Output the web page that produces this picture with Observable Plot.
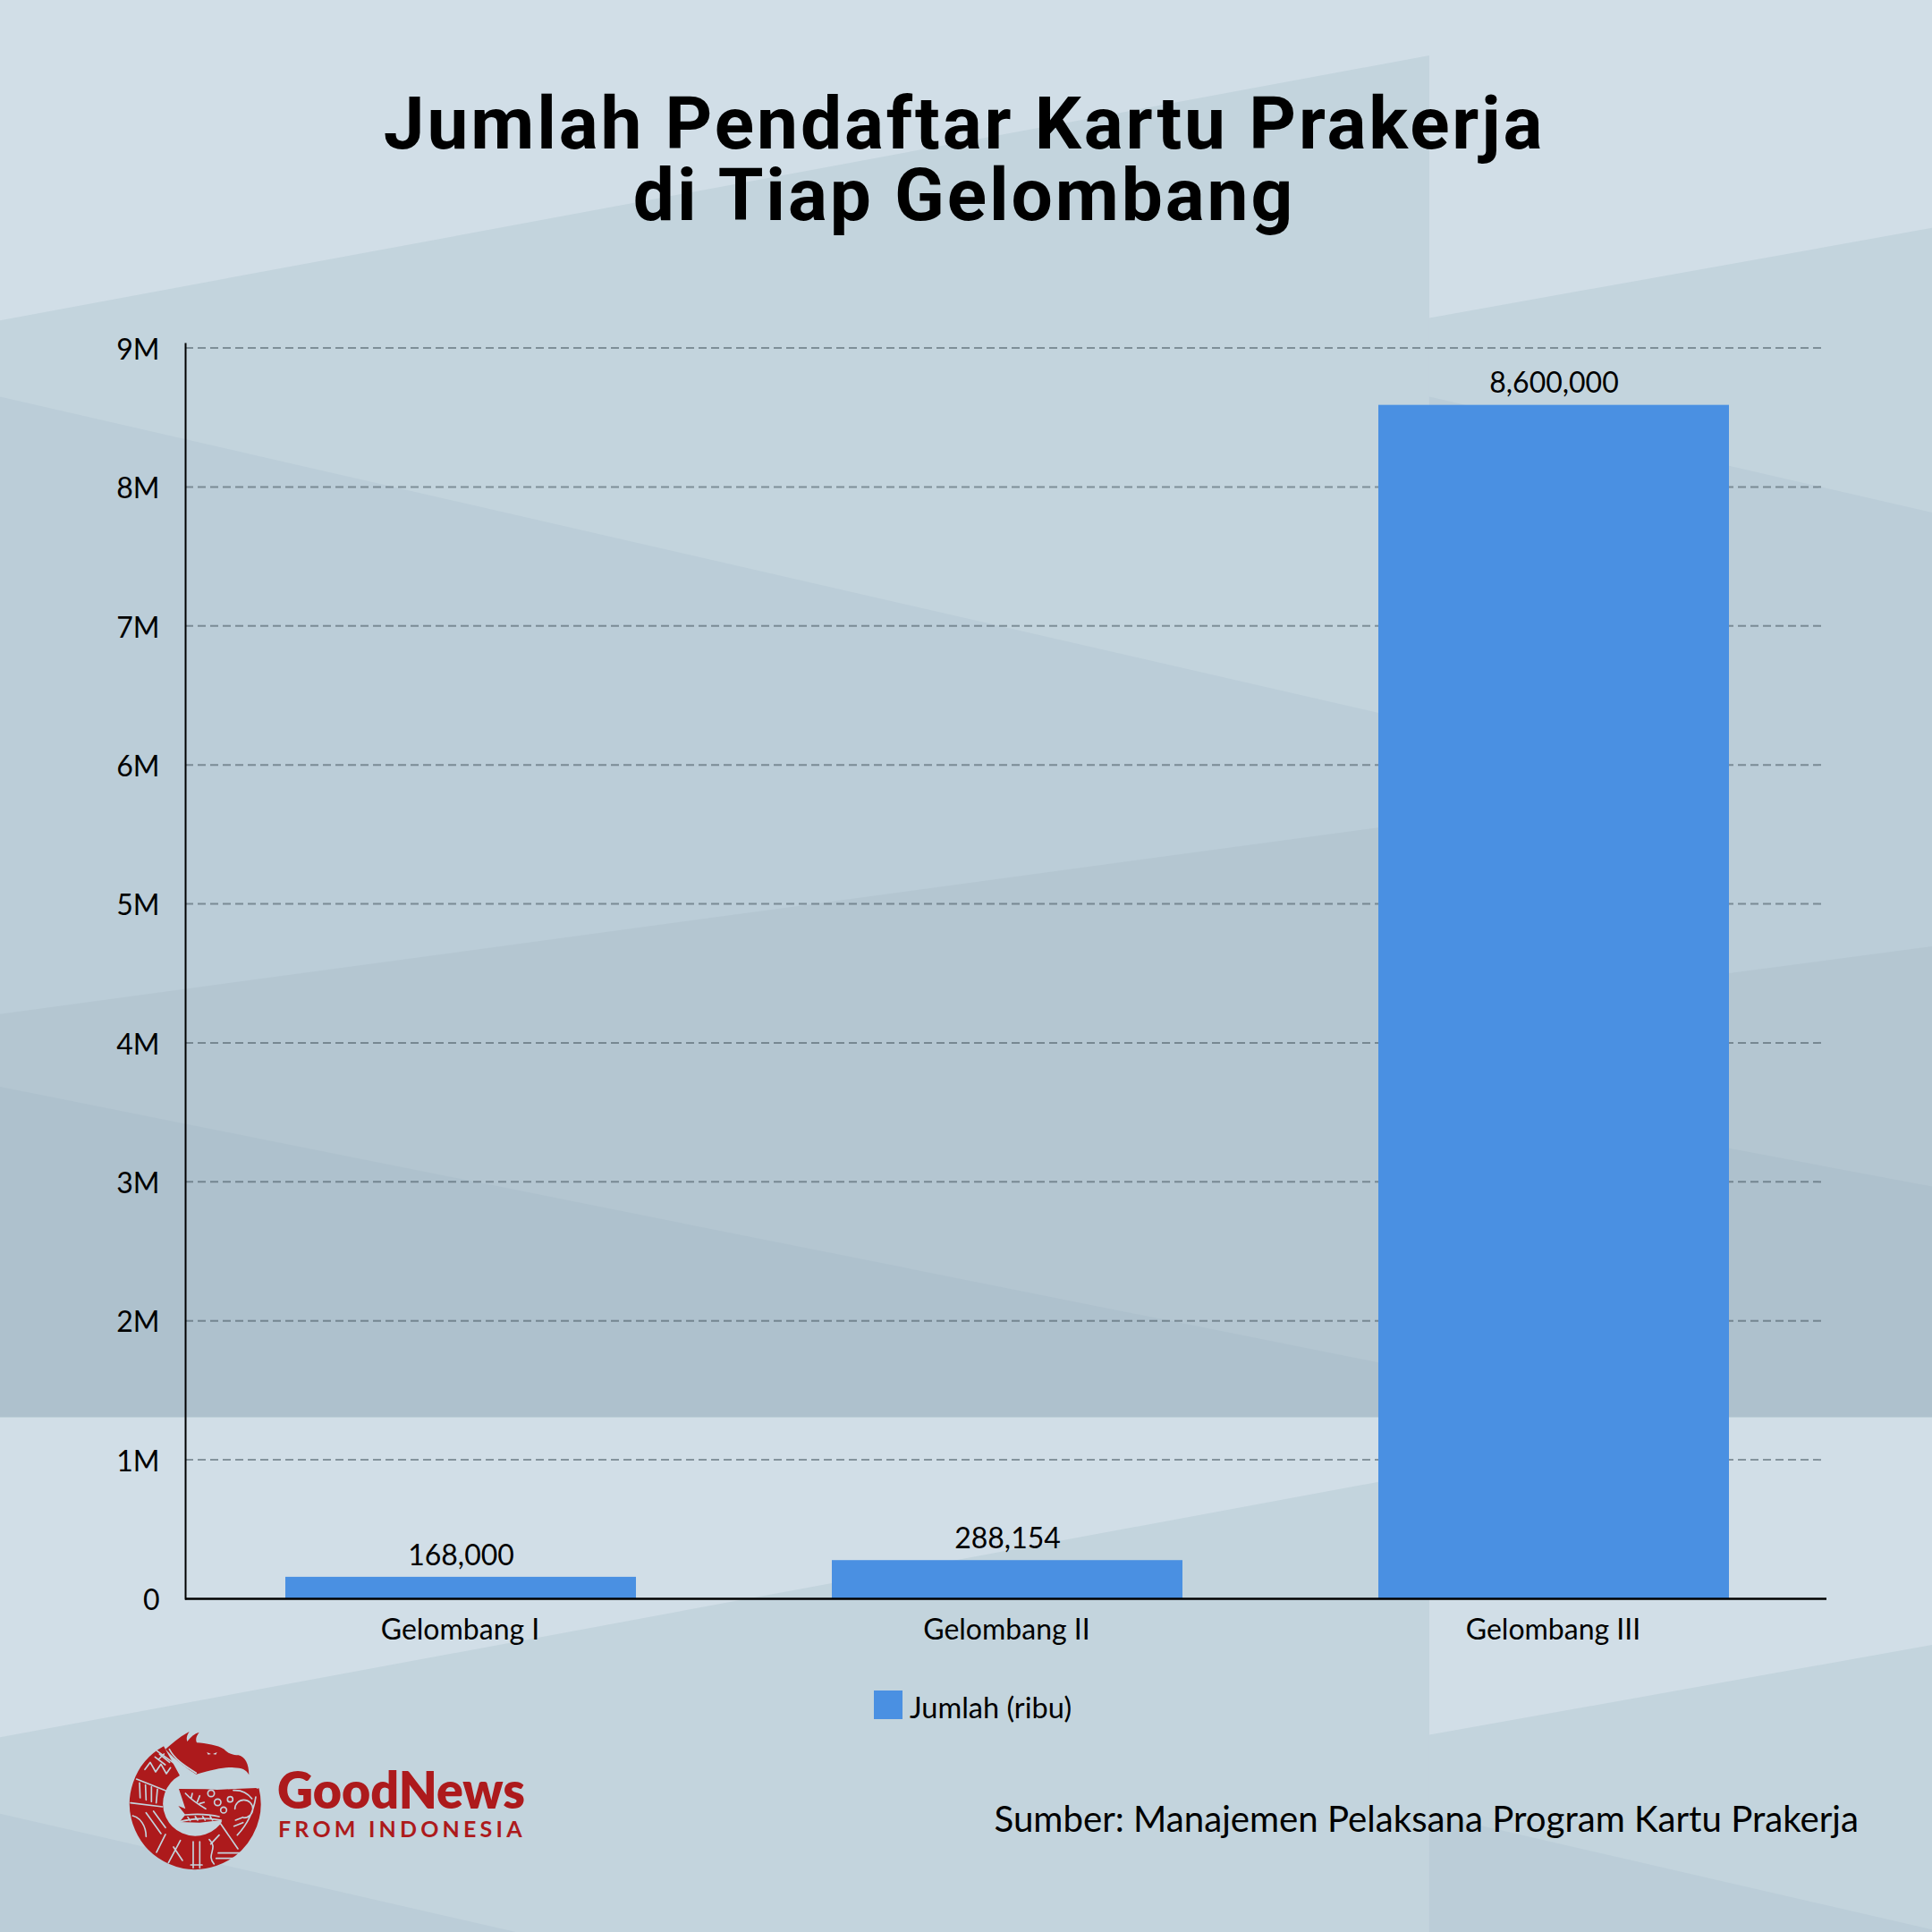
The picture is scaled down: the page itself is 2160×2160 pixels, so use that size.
<!DOCTYPE html>
<html>
<head>
<meta charset="utf-8">
<script src="https://cdn.jsdelivr.net/npm/d3@7"></script>
<script src="https://cdn.jsdelivr.net/npm/@observablehq/plot@0.6"></script>
<style>
html,body{margin:0;padding:0;background:#d1dee7}
#page{position:relative;width:2160px;height:2160px;overflow:hidden;font-family:Lato,sans-serif;color:#000}
#bg,#logo{position:absolute;left:0;top:0}
#chart{position:absolute;left:0;top:0}
#title{position:absolute;left:0;top:98px;width:2156px;text-align:center;font-family:Roboto,sans-serif;font-weight:700;font-size:82px;line-height:80px;letter-spacing:2.9px;white-space:nowrap}
#swatch{position:absolute;left:977px;top:1890px;width:32px;height:32px;background:#4a90e2}
#legend{position:absolute;left:1017px;top:1890px;font-size:32.5px;line-height:38px;white-space:nowrap}
#source{position:absolute;right:82px;top:2008px;font-size:40.2px;line-height:50px;white-space:nowrap}
</style>
</head>
<body>
<div id="page">
<svg id="bg" width="2160" height="2160" viewBox="0 0 1568 1568">
  <defs>
    <g id="tileL">
      <polygon points="0,260 1160,45 1160,1150 0,1150" fill="#c3d4dd"/>
      <polygon points="0,322 1160,588 1160,1150 0,1150" fill="#bbcdd8"/>
      <polygon points="0,823 1160,666 1160,1150 0,1150" fill="#b4c6d1"/>
      <polygon points="0,882 1160,1114 1160,1150 0,1150" fill="#aec1cd"/>
    </g>
    <g id="tileR">
      <polygon points="1160,258 1568,185 1568,1150 1160,1150" fill="#c3d4dd"/>
      <polygon points="1160,322 1568,416 1568,1150 1160,1150" fill="#bbcdd8"/>
      <polygon points="1160,822 1568,768 1568,1150 1160,1150" fill="#b4c6d1"/>
      <polygon points="1160,886 1568,963 1568,1150 1160,1150" fill="#aec1cd"/>
    </g>
  </defs>
  <rect width="1568" height="1568" fill="#d1dee7"/>
  <use href="#tileL"/><use href="#tileR"/>
  <use href="#tileL" y="1150"/><use href="#tileR" y="1150"/>
</svg>

<div id="chart"></div>

<div id="title">Jumlah Pendaftar Kartu Prakerja<br>di Tiap Gelombang</div>

<div id="swatch"></div>
<div id="legend">Jumlah (ribu)</div>
<div id="source">Sumber: Manajemen Pelaksana Program Kartu Prakerja</div>

<svg id="logo" width="2160" height="2160" viewBox="0 0 2160 2160">
  <g transform="translate(130,1925) scale(0.3333)">
    <g fill="#ad1a1c">
      <path d="M186,131 A164,164 0 1 0 424,236" fill="none" stroke="#ad1a1c" stroke-width="112"/>
      <path d="M165,92 C185,75 205,55 245,33 C235,48 235,58 238,66 C250,50 262,40 278,35 C268,48 265,60 270,70 C300,72 340,78 362,92 C372,102 380,110 410,112 C432,118 445,140 445,178 C436,160 420,155 395,154 C365,150 330,160 268,176 C240,158 200,130 165,92 Z"/>
      <path d="M210,225 L300,226 L338,228 L400,225 L470,222 L482,250 L440,330 L385,372 L350,330 L280,338 L212,336 L232,312 L208,282 L232,292 Z"/>
    </g>
    <g fill="none" stroke="#c3d4dd" stroke-width="5" stroke-linecap="round" stroke-linejoin="round">
      <path d="M178,92 C195,125 225,145 268,172"/>
      <path d="M137,98 L240,172 M68,192 L168,232"/>
      <path d="M96,160 l18,-24 l18,32 l18,-26 l18,32 l14,-20 M130,118 l34,26 M145,108 l34,28 M160,108 l-18,18"/>
      <path d="M78,205 l2,50 M98,212 l2,50 M118,218 l0,50 M138,226 l-4,46 M48,272 L155,285"/>
      <path d="M55,315 C80,320 100,350 100,385 M100,305 l50,70 M125,300 l40,55 M165,378 l-30,60"/>
      <path d="M215,398 l-40,75 M192,420 l30,45 M258,402 v88 M280,402 v88 M250,480 h38"/>
      <path d="M312,395 c32,30 -12,50 16,82 M350,342 l58,84 M342,440 h72 M335,458 h58 M345,380 l-28,30"/>
      <path d="M468,252 c-8,55 -36,100 -62,128 M398,292 a30,30 0 1 1 30,30 M455,258 a72,72 0 0 0 -62,-28"/>
      <path d="M212,335 C260,322 310,322 352,330 M232,312 C280,308 320,312 345,318 M240,320 l8,12 M265,318 l8,12 M290,318 l8,12 M315,318 l8,12"/>
      <path d="M232,240 C255,265 280,280 300,292 M255,240 l-4,18 M280,248 l-8,20 M295,270 l-15,4"/>
      <circle cx="318" cy="240" r="11"/><circle cx="340" cy="270" r="11"/><circle cx="360" cy="296" r="10"/><circle cx="382" cy="260" r="9"/>
      <path d="M400,330 l25,-10 M395,350 l30,-12"/>
    </g>
    <path d="M304,102 l14,6 l-10,2 z M338,102 l-14,6 l10,2 z" fill="#d1dee7"/>
  </g>
  <g fill="#ad1a1c">
    <text x="310" y="2022" font-family="Lato" font-weight="800" font-size="56" textLength="277" lengthAdjust="spacingAndGlyphs">GoodNews</text>
    <text x="311" y="2054" font-family="Lato" font-weight="700" font-size="25" letter-spacing="4.2">FROM INDONESIA</text>
  </g>
</svg>
</div>

<script>
const categories = ["Gelombang I", "Gelombang II", "Gelombang III"];
const seriesValues = [168000, 288154, 8600000];
const valueLabels = ["168,000", "288,154", "8,600,000"];
const yTickValues = [0, 1e6, 2e6, 3e6, 4e6, 5e6, 6e6, 7e6, 8e6, 9e6];
const gridValues = [1e6, 2e6, 3e6, 4e6, 5e6, 6e6, 7e6, 8e6, 9e6];

const rows = categories.map((c, i) => ({category: c, value: seriesValues[i], label: valueLabels[i]}));

const plot = Plot.plot({
  width: 2160,
  height: 1860,
  marginLeft: 207,
  marginRight: 118,
  marginTop: 384,
  marginBottom: 73,
  style: {background: "transparent", fontFamily: "Lato, sans-serif", fontSize: "32px", color: "#000"},
  x: {domain: categories, paddingInner: 0.359, paddingOuter: 0.1795, label: null},
  y: {domain: [0, 9e6], range: [1787, 388.5], label: null},
  marks: [
    Plot.ruleY(gridValues, {stroke: "#46555f", strokeOpacity: 0.55, strokeWidth: 2, strokeDasharray: "9,5", insetRight: 5}),
    Plot.barY(rows, {x: "category", y: "value", fill: "#4a90e2", dx: 1, insetTop: 2}),
    Plot.text(rows, {x: "category", y: "value", text: "label", dx: 1, dy: -22, fill: "#000", fontSize: 32}),
    Plot.ruleY([0], {stroke: "#000", strokeWidth: 2.5}),
    Plot.frame({anchor: "left", stroke: "#000", strokeWidth: 2}),
    Plot.axisX({tickSize: 0, tickPadding: 23, fontSize: 32, label: null, fill: "#000"}),
    Plot.axisY({ticks: yTickValues, tickSize: 0, tickPadding: 29, dy: 2.5, fontSize: 32, label: null, fill: "#000",
      tickFormat: d => d === 0 ? "0" : (d / 1e6) + "M"})
  ]
});
document.getElementById("chart").appendChild(plot);
</script>
</body>
</html>
